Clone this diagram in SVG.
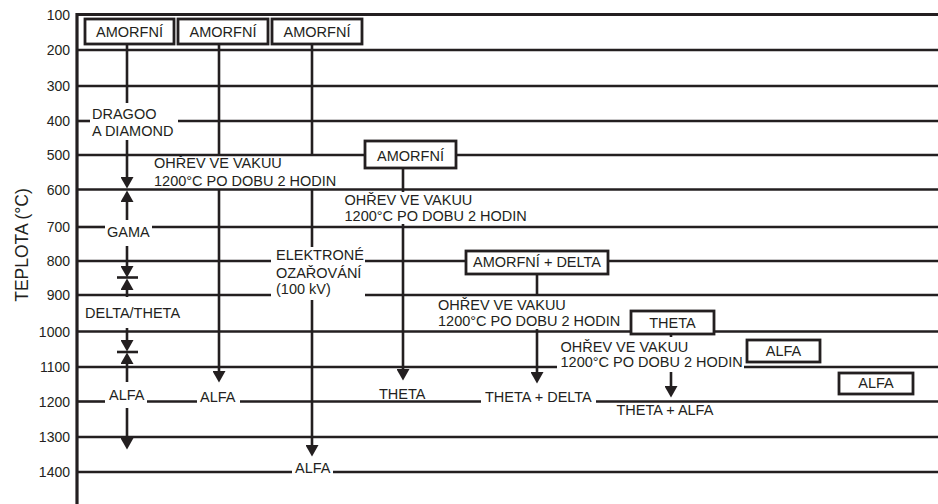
<svg xmlns="http://www.w3.org/2000/svg" width="938" height="504" viewBox="0 0 938 504">
<style>
text{font-family:"Liberation Sans",Arial,sans-serif;font-size:14.5px;fill:#231f20}
.num{font-size:14px;text-anchor:end}
.ttl{font-size:17.5px;text-anchor:middle}
.c{text-anchor:middle}
.grid line{stroke:#231f20;stroke-width:2.6}
.conn line{stroke:#231f20;stroke-width:2.6}
.box{fill:#fff;stroke:#231f20;stroke-width:2.8}
</style>
<defs>
<marker id="ah" markerUnits="userSpaceOnUse" markerWidth="12" markerHeight="13" refX="0" refY="6.5" orient="auto" viewBox="0 0 12 13">
<path d="M0,0 L11.5,6.5 L0,13 z" fill="#231f20"/>
</marker>
</defs>
<rect width="938" height="504" fill="#fff"/>
<g id="axis">
<text class="ttl" transform="translate(28,245) rotate(-90)">TEPLOTA (°C)</text>
<text class="num" x="70" y="20">100</text>
<text class="num" x="70" y="55">200</text>
<text class="num" x="70" y="91">300</text>
<text class="num" x="70" y="126">400</text>
<text class="num" x="70" y="160">500</text>
<text class="num" x="70" y="194.5">600</text>
<text class="num" x="70" y="232">700</text>
<text class="num" x="70" y="266">800</text>
<text class="num" x="70" y="300">900</text>
<text class="num" x="70" y="336.5">1000</text>
<text class="num" x="70" y="372">1100</text>
<text class="num" x="70" y="406.5">1200</text>
<text class="num" x="70" y="442">1300</text>
<text class="num" x="70" y="477">1400</text>
<line x1="77" y1="13" x2="77" y2="504" stroke="#231f20" stroke-width="3.2"/>
</g>
<g id="grid" class="grid">
<line x1="77" y1="14.5" x2="938" y2="14.5" style="stroke-width:3"/>
<line x1="77" y1="50" x2="938" y2="50"/>
<line x1="77" y1="86" x2="938" y2="86"/>
<line x1="77" y1="121" x2="90" y2="121"/>
<line x1="178" y1="121" x2="938" y2="121"/>
<line x1="77" y1="155" x2="365" y2="155"/>
<line x1="456" y1="155" x2="938" y2="155"/>
<line x1="77" y1="189.5" x2="938" y2="189.5"/>
<line x1="77" y1="227" x2="105" y2="227"/>
<line x1="152" y1="227" x2="938" y2="227"/>
<line x1="77" y1="261" x2="271" y2="261"/>
<line x1="365" y1="261" x2="466" y2="261"/>
<line x1="608" y1="261" x2="938" y2="261"/>
<line x1="77" y1="295" x2="271" y2="295"/>
<line x1="365" y1="295" x2="938" y2="295"/>
<line x1="77" y1="331.5" x2="631" y2="331.5"/>
<line x1="714" y1="331.5" x2="938" y2="331.5"/>
<line x1="77" y1="367" x2="557" y2="367"/>
<line x1="744" y1="367" x2="938" y2="367"/>
<line x1="77" y1="401.5" x2="105" y2="401.5"/>
<line x1="147" y1="401.5" x2="197" y2="401.5"/>
<line x1="240" y1="401.5" x2="481" y2="401.5"/>
<line x1="596" y1="401.5" x2="938" y2="401.5"/>
<line x1="77" y1="437" x2="938" y2="437"/>
<line x1="77" y1="472" x2="292" y2="472"/>
<line x1="333" y1="472" x2="938" y2="472"/>
</g>
<g id="connectors" class="conn">
<line x1="127" y1="44" x2="127" y2="103"/>
<line x1="127" y1="140" x2="127" y2="177" marker-end="url(#ah)"/>
<line x1="127" y1="220" x2="127" y2="202" marker-end="url(#ah)"/>
<line x1="127" y1="246" x2="127" y2="266" marker-end="url(#ah)"/>
<line x1="117" y1="277.5" x2="138" y2="277.5"/>
<line x1="127" y1="297" x2="127" y2="290" marker-end="url(#ah)"/>
<line x1="127" y1="328" x2="127" y2="340" marker-end="url(#ah)"/>
<line x1="117" y1="352" x2="138" y2="352"/>
<line x1="127" y1="382" x2="127" y2="364" marker-end="url(#ah)"/>
<line x1="127" y1="408" x2="127" y2="438" marker-end="url(#ah)"/>
<line x1="219" y1="44" x2="219" y2="155"/>
<line x1="219" y1="189" x2="219" y2="371" marker-end="url(#ah)"/>
<line x1="312" y1="44" x2="312" y2="155"/>
<line x1="312" y1="189" x2="312" y2="247"/>
<line x1="312" y1="300" x2="312" y2="445" marker-end="url(#ah)"/>
<line x1="403" y1="168" x2="403" y2="192"/>
<line x1="403" y1="224" x2="403" y2="369" marker-end="url(#ah)"/>
<line x1="537" y1="274" x2="537" y2="295"/>
<line x1="537" y1="329" x2="537" y2="372" marker-end="url(#ah)"/>
<line x1="671" y1="334" x2="671" y2="337"/>
<line x1="671" y1="372" x2="671" y2="386" marker-end="url(#ah)"/>
</g>
<g id="n-amorfni-1"><rect class="box" x="85" y="19" width="89" height="25"/><text class="c" x="129.5" y="36.5">AMORFNÍ</text></g>
<g id="n-amorfni-2"><rect class="box" x="178" y="19" width="90" height="25"/><text class="c" x="223" y="36.5">AMORFNÍ</text></g>
<g id="n-amorfni-3"><rect class="box" x="272" y="19" width="90" height="25"/><text class="c" x="317" y="36.5">AMORFNÍ</text></g>
<g id="n-amorfni-4"><rect class="box" x="365" y="141" width="91" height="27"/><text class="c" x="410.5" y="161">AMORFNÍ</text></g>
<g id="n-amorfni-delta"><rect class="box" x="466" y="251" width="142" height="23"/><text class="c" x="537" y="267">AMORFNÍ + DELTA</text></g>
<g id="n-theta-box"><rect class="box" x="631" y="311" width="83" height="23"/><text class="c" x="672.5" y="328">THETA</text></g>
<g id="n-alfa-box-1"><rect class="box" x="747" y="340" width="73" height="22"/><text class="c" x="783.5" y="355.5">ALFA</text></g>
<g id="n-alfa-box-2"><rect class="box" x="839" y="373" width="74" height="21"/><text class="c" x="876" y="388">ALFA</text></g>
<g id="n-dragoo"><text x="92" y="119">DRAGOO</text><text x="92" y="136">A DIAMOND</text></g>
<g id="n-ohrev-1"><text x="154" y="168">OHŘEV VE VAKUU</text><text x="154" y="185.5">1200°C PO DOBU 2 HODIN</text></g>
<g id="n-ohrev-2"><text x="344.5" y="205">OHŘEV VE VAKUU</text><text x="344.5" y="221">1200°C PO DOBU 2 HODIN</text></g>
<g id="n-ohrev-3"><text x="438" y="310">OHŘEV VE VAKUU</text><text x="438" y="326">1200°C PO DOBU 2 HODIN</text></g>
<g id="n-ohrev-4"><text x="560.5" y="352">OHŘEV VE VAKUU</text><text x="560.5" y="367">1200°C PO DOBU 2 HODIN</text></g>
<g id="n-elektrone"><text x="276" y="260">ELEKTRONÉ</text><text x="276" y="277.5">OZAŘOVÁNÍ</text><text x="276" y="294">(100 kV)</text></g>
<g id="n-gama"><text x="107" y="236.5">GAMA</text></g>
<g id="n-delta-theta"><text x="85" y="318">DELTA/THETA</text></g>
<g id="n-alfa-1"><text x="109" y="400">ALFA</text></g>
<g id="n-alfa-2"><text x="200" y="401.5">ALFA</text></g>
<g id="n-alfa-3"><text x="295" y="472.5">ALFA</text></g>
<g id="n-theta"><text x="379" y="399">THETA</text></g>
<g id="n-theta-delta"><text x="485" y="402">THETA + DELTA</text></g>
<g id="n-theta-alfa"><text x="616.5" y="415">THETA + ALFA</text></g>
</svg>
